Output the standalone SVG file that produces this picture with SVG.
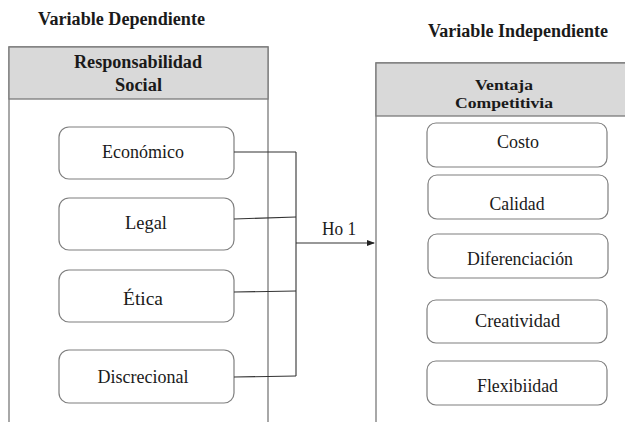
<svg xmlns="http://www.w3.org/2000/svg" width="625" height="422" viewBox="0 0 625 422">
  <defs>
    <style>
      text { font-family: "Liberation Serif", Tinos, "Times New Roman", "Noto Serif", "DejaVu Serif", serif; font-size: 18px; fill: #1a1a1a; text-anchor: middle; }
      .b { font-weight: bold; }
      .sm { font-size: 15.5px; }
      .panel { fill: #ffffff; stroke: #7a7a7a; stroke-width: 1.3; }
      .head { fill: #d9d9d9; stroke: #7a7a7a; stroke-width: 1.3; }
      .box { fill: #ffffff; stroke: #7f7f7f; stroke-width: 1.2; }
      .conn { fill: none; stroke: #333333; stroke-width: 1.1; }
    </style>
    <marker id="arrow" markerWidth="8" markerHeight="6" refX="7" refY="3" orient="auto" markerUnits="userSpaceOnUse">
      <path d="M0,0 L8,3 L0,6 Z" fill="#222222"/>
    </marker>
  </defs>
  <rect width="625" height="422" fill="#ffffff"/>

  <text class="b" x="121.5" y="25" textLength="167" lengthAdjust="spacingAndGlyphs">Variable Dependiente</text>
  <text class="b" x="518" y="37" textLength="180" lengthAdjust="spacingAndGlyphs">Variable Independiente</text>

  <g id="panel-rs">
    <path class="panel" d="M9,422 V47 H268 V422"/>
    <rect class="head" x="9" y="47" width="259" height="52"/>
    <text class="b" x="138" y="68" textLength="128" lengthAdjust="spacingAndGlyphs">Responsabilidad</text>
    <text class="b" x="138.5" y="91" textLength="47" lengthAdjust="spacingAndGlyphs">Social</text>
  </g>

  <g id="panel-vc">
    <path class="panel" d="M376,422 V63 H630"/>
    <rect class="head" x="376" y="63" width="254" height="53"/>
    <text class="b sm" x="504" y="90" textLength="58" lengthAdjust="spacingAndGlyphs">Ventaja</text>
    <text class="b sm" x="504" y="108" textLength="98" lengthAdjust="spacingAndGlyphs">Competitivia</text>
  </g>

  <g id="economico"><rect class="box" x="59" y="127" width="175" height="52" rx="10"/><text x="143" y="158" textLength="82" lengthAdjust="spacingAndGlyphs">Económico</text></g>
  <g id="legal"><rect class="box" x="59" y="198" width="175" height="52" rx="10"/><text x="146" y="229" textLength="42" lengthAdjust="spacingAndGlyphs">Legal</text></g>
  <g id="etica"><rect class="box" x="59" y="270" width="175" height="52" rx="10"/><text x="143" y="305" textLength="40" lengthAdjust="spacingAndGlyphs">Ética</text></g>
  <g id="discrecional"><rect class="box" x="59" y="350" width="175" height="53" rx="10"/><text x="143" y="383" textLength="91" lengthAdjust="spacingAndGlyphs">Discrecional</text></g>

  <g id="costo"><rect class="box" x="427" y="123" width="180" height="44" rx="9"/><text x="518" y="148" textLength="42" lengthAdjust="spacingAndGlyphs">Costo</text></g>
  <g id="calidad"><rect class="box" x="428" y="175" width="180" height="44" rx="9"/><text x="517" y="210" textLength="55" lengthAdjust="spacingAndGlyphs">Calidad</text></g>
  <g id="diferenciacion"><rect class="box" x="428" y="234" width="180" height="44" rx="9"/><text x="520" y="265" textLength="106" lengthAdjust="spacingAndGlyphs">Diferenciación</text></g>
  <g id="creatividad"><rect class="box" x="427" y="300" width="180" height="43" rx="9"/><text x="517.5" y="327" textLength="85" lengthAdjust="spacingAndGlyphs">Creatividad</text></g>
  <g id="flexibiidad"><rect class="box" x="427" y="361" width="180" height="44" rx="9"/><text x="517.5" y="392" textLength="81" lengthAdjust="spacingAndGlyphs">Flexibiidad</text></g>

  <g id="connectors">
    <path class="conn" d="M234,152 H296"/>
    <path class="conn" d="M234,219 L296,217"/>
    <path class="conn" d="M234,292 L296,291"/>
    <path class="conn" d="M234,377 L296,376"/>
    <path class="conn" d="M296,152 V376"/>
    <path class="conn" d="M296,243 H374" marker-end="url(#arrow)"/>
    <text x="339" y="235" textLength="34" lengthAdjust="spacingAndGlyphs">Ho 1</text>
  </g>
</svg>
